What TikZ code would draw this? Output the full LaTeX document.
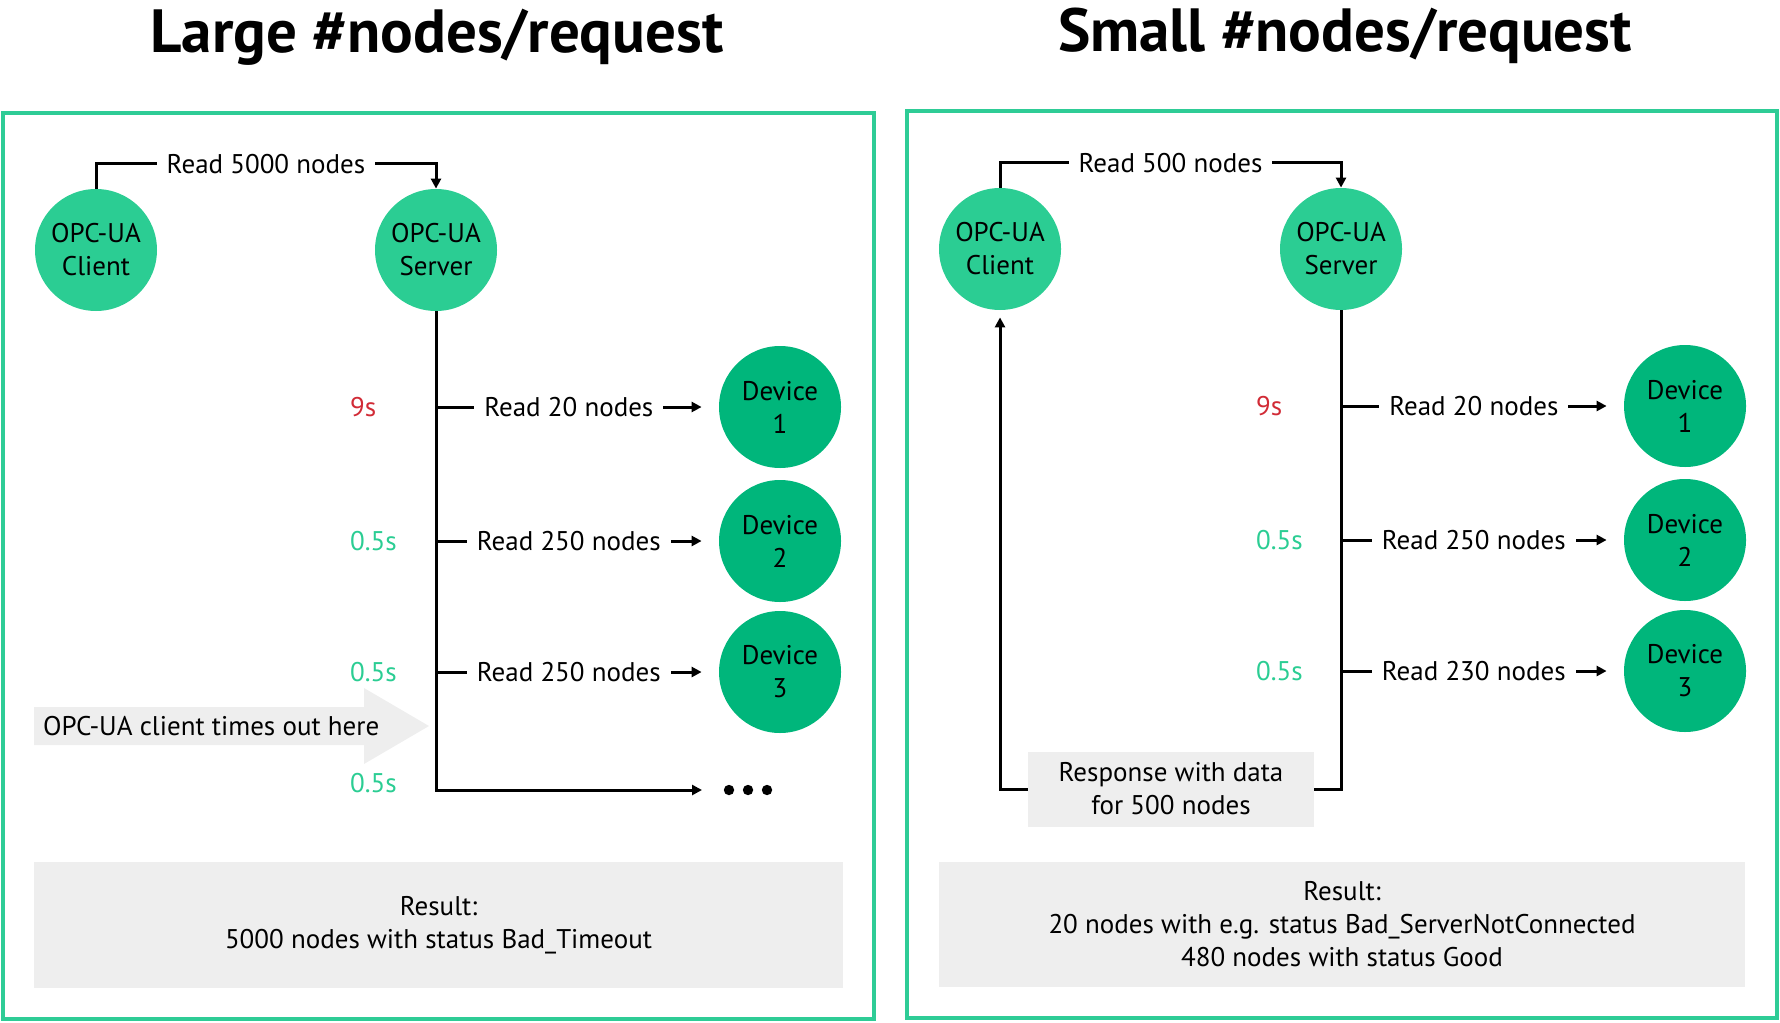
\documentclass[tikz,border=0pt]{standalone}
\usepackage{fontspec}
\setmainfont{PT Sans}
\usetikzlibrary{arrows.meta}
\definecolor{framegreen}{HTML}{2ECC96}
\definecolor{hubgreen}{HTML}{2BCD93}
\definecolor{devgreen}{HTML}{00B67B}
\definecolor{timered}{HTML}{D12B36}
\definecolor{boxgrey}{HTML}{EEEEEE}

\begin{document}
\begin{tikzpicture}[
            x=0.5pt, y=-0.5pt,
            >={Triangle[length=5pt,width=5pt]},
            every node/.style={font=\fontsize{13.5}{16.5}\selectfont},
            hub/.style={circle, fill=hubgreen, minimum size=61pt, inner sep=0pt, align=center},
            device/.style={circle, fill=devgreen, minimum size=61pt, inner sep=0pt, align=center},
            lbl/.style={fill=white, inner xsep=5pt},
            fast/.style={text=hubgreen, anchor=west},
            slow/.style={text=timered, anchor=west},
            greybox/.style={fill=boxgrey, align=center},
            panel/.style={draw=framegreen, line width=2pt},
            link/.style={line width=1.5pt},
            headline/.style={font=\fontsize{30.5}{36}\selectfont\bfseries, anchor=base}
        ]
            \useasboundingbox (0,0) rectangle (1780,1022);

            % left panel: large request
            \draw[panel] (3,113) rectangle (874,1019);
            \node[headline] (title1) at (437,53) {Large \#nodes/request};

            \node[hub] (cl1) at (96,250) {OPC-UA\\Client};
            \node[hub] (sv1) at (436,250) {OPC-UA\\Server};
            \foreach \y/\n in {407/1, 541/2, 672/3}
                \node[device] (dv1\n) at (780,\y) {Device\\\n};

            \draw[link,->] (cl1.north) -- ++(0,-25) -| node[lbl, pos=0.25] {Read 5000 nodes} (sv1.north);

            \draw[link,->] (sv1.south |- dv11) -- node[lbl] {Read 20 nodes} ([xshift=-8.5pt]dv11.west);
            \draw[link,->] (sv1.south |- dv12) -- node[lbl] {Read 250 nodes} ([xshift=-8.5pt]dv12.west);
            \draw[link,->] (sv1.south |- dv13) -- node[lbl] {Read 250 nodes} ([xshift=-8.5pt]dv13.west);

            \coordinate (more1) at (702,790);
            \draw[link,->] (sv1.south) |- (more1);
            \foreach \x in {729,748,767}
                \fill (\x,790) circle (2.6pt);

            \node[slow] (tm11) at (343,407) {9s};
            \node[fast] (tm12) at (343,541) {0.5s};
            \node[fast] (tm13) at (343,672) {0.5s};
            \node[fast] (tm14) at (343,783) {0.5s};

            \fill[boxgrey] (34,707) -- (364,707) -- (364,688) -- (429,726) -- (364,764) -- (364,745) -- (34,745) -- cycle;
            \node[anchor=west] (out1) at (36,726) {OPC-UA client times out here};

            \node[greybox, minimum width=404.5pt, minimum height=63pt] (res1) at (438.5,925)
                {Result:\\5000 nodes with status Bad\_Timeout};

            % right panel: small request
            \draw[panel] (907,111) rectangle (1777,1018);
            \node[headline] (title2) at (1345,52) {Small \#nodes/request};

            \node[hub] (cl2) at (1000,249) {OPC-UA\\Client};
            \node[hub] (sv2) at (1341,249) {OPC-UA\\Server};
            \foreach \y/\n in {406/1, 540/2, 671/3}
                \node[device] (dv2\n) at (1685,\y) {Device\\\n};

            \draw[link,->] (cl2.north) -- ++(0,-25) -| node[lbl, pos=0.25] {Read 500 nodes} (sv2.north);

            \draw[link,->] (sv2.south |- dv21) -- node[lbl] {Read 20 nodes} ([xshift=-8.5pt]dv21.west);
            \draw[link,->] (sv2.south |- dv22) -- node[lbl] {Read 250 nodes} ([xshift=-8.5pt]dv22.west);
            \draw[link,->] (sv2.south |- dv23) -- node[lbl] {Read 230 nodes} ([xshift=-8.5pt]dv23.west);

            \node[slow] (tm21) at (1249,406) {9s};
            \node[fast] (tm22) at (1249,540) {0.5s};
            \node[fast] (tm23) at (1249,671) {0.5s};

            \coordinate (rsp2) at (1171,789);
            \draw[link,->, shorten >=3.5pt] (sv2.south) |- (rsp2) -| (cl2.south);
            \node[greybox, minimum width=143pt, minimum height=37.5pt] (rspbox2) at (rsp2)
                {Response with data\\for 500 nodes};

            \node[greybox, minimum width=403pt, minimum height=62.5pt] (res2) at (1342,924.5)
                {Result:\\20 nodes with e.g. status Bad\_ServerNotConnected\\480 nodes with status Good};
        \end{tikzpicture}
\end{document}
